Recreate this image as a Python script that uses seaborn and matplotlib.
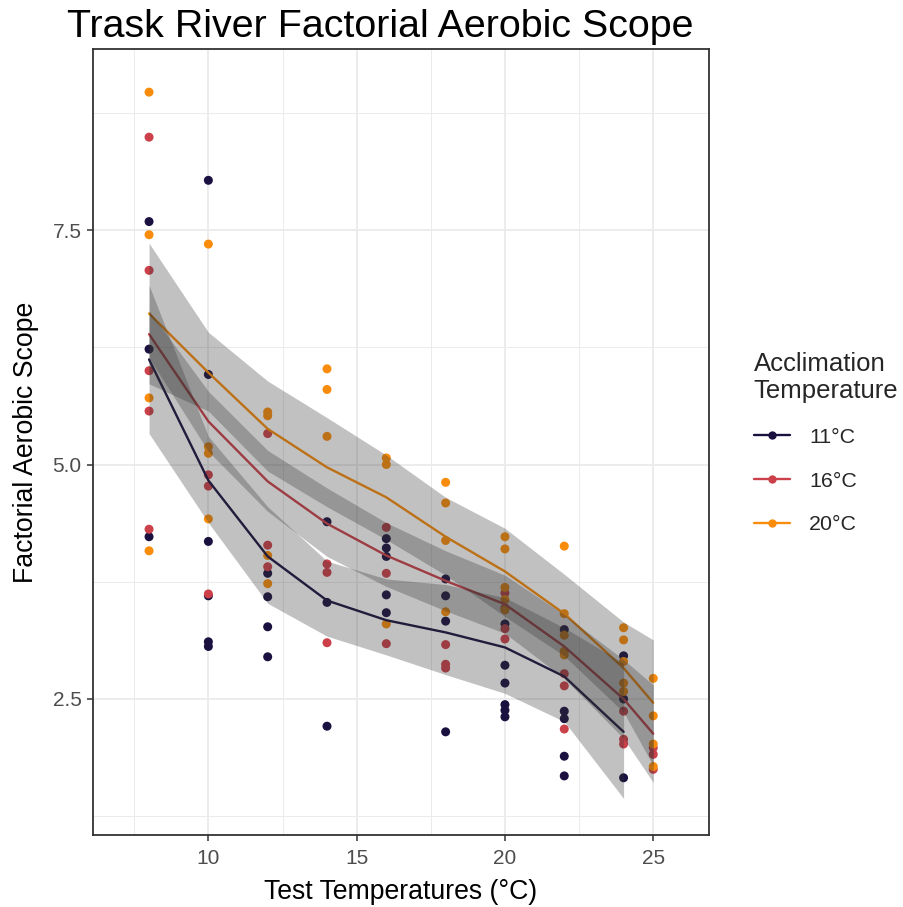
import numpy as np
import pandas as pd
import matplotlib
matplotlib.use("Agg")
import matplotlib.pyplot as plt
from matplotlib.lines import Line2D
from matplotlib.ticker import FixedLocator
import seaborn as sns

# ---------------- data ----------------
groups = ["11°C", "16°C", "20°C"]
colors = ["#1B1140", "#CB4049", "#F98C0A"]

temp_11 = [8, 8, 8,
           10, 10, 10, 10, 10, 10,
           12, 12, 12, 12,
           14, 14, 14,
           16, 16, 16, 16, 16,
           18, 18, 18, 18,
           20, 20, 20, 20, 20, 20,
           22, 22, 22, 22, 22,
           24, 24, 24]
fas_11 = [7.59, 6.23, 4.23,
          8.03, 5.96, 4.18, 3.60, 3.11, 3.06,
          3.84, 3.59, 3.27, 2.95,
          4.39, 3.53, 2.21,
          4.21, 4.11, 4.02, 3.61, 3.42,
          3.78, 3.60, 3.33, 2.15,
          3.30, 2.86, 2.67, 2.44, 2.38, 2.31,
          3.24, 2.37, 2.29, 1.89, 1.68,
          2.96, 2.50, 1.66]

temp_16 = [8, 8, 8, 8, 8,
           10, 10, 10,
           12, 12, 12,
           14, 14, 14,
           16, 16, 16,
           18, 18, 18,
           20, 20, 20, 20,
           22, 22, 22,
           24, 24, 24,
           25, 25, 25]
fas_16 = [8.49, 7.07, 6.00, 5.57, 4.31,
          4.89, 4.77, 3.62,
          5.33, 4.14, 3.91,
          3.94, 3.85, 3.10,
          4.33, 3.84, 3.09,
          3.08, 2.87, 2.83,
          3.63, 3.47, 3.25, 3.14,
          2.77, 2.64, 2.18,
          2.37, 2.07, 2.02,
          1.98, 1.91, 1.75]

temp_20 = [8, 8, 8, 8,
           10, 10, 10, 10,
           12, 12, 12, 12,
           14, 14, 14,
           16, 16, 16,
           18, 18, 18, 18,
           20, 20, 20, 20, 20,
           22, 22, 22, 22, 22,
           24, 24, 24, 24, 24,
           25, 25, 25, 25]
fas_20 = [8.97, 7.45, 5.71, 4.08,
          7.35, 5.19, 5.12, 4.42,
          5.56, 5.52, 4.03, 3.73,
          6.02, 5.80, 5.30,
          5.07, 5.00, 3.30,
          4.81, 4.59, 4.19, 3.43,
          4.23, 4.10, 3.69, 3.56, 3.45,
          4.13, 3.41, 3.18, 3.01, 2.97,
          3.26, 3.13, 2.90, 2.67, 2.58,
          2.72, 2.32, 2.02, 1.78]

# fitted curves with confidence limits
fit_x_11 = [8, 10, 12, 14, 16, 18, 20, 22, 24]
fit_11 = [6.12, 4.83, 4.02, 3.55, 3.34, 3.21, 3.05, 2.74, 2.15]
lo_11 = [5.33, 4.38, 3.52, 3.17, 2.97, 2.76, 2.56, 2.26, 1.44]
hi_11 = [6.91, 5.30, 4.55, 3.97, 3.78, 3.72, 3.58, 3.26, 2.88]

fit_x_16 = [8, 10, 12, 14, 16, 18, 20, 22, 24, 25]
fit_16 = [6.39, 5.46, 4.82, 4.37, 4.03, 3.76, 3.51, 3.06, 2.50, 2.13]
lo_16 = [6.14, 5.14, 4.50, 4.02, 3.70, 3.44, 3.20, 2.72, 2.08, 1.61]
hi_16 = [6.64, 5.78, 5.15, 4.75, 4.38, 4.08, 3.82, 3.40, 2.92, 2.65]

fit_x_20 = [8, 10, 12, 14, 16, 18, 20, 22, 24, 25]
fit_20 = [6.61, 5.98, 5.38, 4.97, 4.65, 4.23, 3.86, 3.41, 2.83, 2.46]
lo_20 = [5.86, 5.57, 4.93, 4.55, 4.20, 3.82, 3.38, 2.96, 2.36, 1.79]
hi_20 = [7.36, 6.41, 5.89, 5.50, 5.10, 4.65, 4.32, 3.83, 3.32, 3.13]

x_ticks = [10, 15, 20, 25]
x_minor = [7.5, 12.5, 17.5, 22.5]
y_ticks = [2.5, 5.0, 7.5]
y_minor = [1.25, 3.75, 6.25, 8.75]
y_tick_labels = ["2.5", "5.0", "7.5"]

title = "Trask River Factorial Aerobic Scope"
x_label = "Test Temperatures (°C)"
y_label = "Factorial Aerobic Scope"
legend_title = "Acclimation\nTemperature"

points = pd.concat([
    pd.DataFrame({"temp": temp_11, "fas": fas_11, "acc": groups[0]}),
    pd.DataFrame({"temp": temp_16, "fas": fas_16, "acc": groups[1]}),
    pd.DataFrame({"temp": temp_20, "fas": fas_20, "acc": groups[2]}),
], ignore_index=True)

fits = [
    pd.DataFrame({"temp": fit_x_11, "fit": fit_11, "lo": lo_11, "hi": hi_11}),
    pd.DataFrame({"temp": fit_x_16, "fit": fit_16, "lo": lo_16, "hi": hi_16}),
    pd.DataFrame({"temp": fit_x_20, "fit": fit_20, "lo": lo_20, "hi": hi_20}),
]

# ---------------- plot ----------------
sns.set_theme(style="white")
plt.rcParams["font.family"] = ["Liberation Sans", "DejaVu Sans"]

fig = plt.figure(figsize=(9.04, 9.07), dpi=100)
ax = fig.add_axes([92.7 / 904, 1 - 835 / 907, (709 - 92.7) / 904, (835 - 49) / 907])

sns.scatterplot(data=points, x="temp", y="fas", hue="acc", palette=colors,
                hue_order=groups, s=42, linewidth=0, ax=ax, legend=False,
                zorder=2)

for i, fd in enumerate(fits):
    sns.lineplot(data=fd, x="temp", y="fit", color=colors[i], linewidth=1.7,
                 estimator=None, sort=False, ax=ax, zorder=3)
for i, fd in enumerate(fits):
    ax.fill_between(fd["temp"], fd["lo"], fd["hi"], color="#333333", alpha=0.3,
                    linewidth=0, zorder=4)

ax.set_xlim(6.10, 26.88)
ax.set_ylim(1.05, 9.43)
ax.xaxis.set_major_locator(FixedLocator(x_ticks))
ax.xaxis.set_minor_locator(FixedLocator(x_minor))
ax.yaxis.set_major_locator(FixedLocator(y_ticks))
ax.yaxis.set_minor_locator(FixedLocator(y_minor))
ax.set_yticklabels(y_tick_labels)

ax.grid(which="major", color="#EBEBEB", linewidth=1.3, zorder=0)
ax.grid(which="minor", color="#EBEBEB", linewidth=0.7, zorder=0)
ax.set_axisbelow(True)

for sp in ax.spines.values():
    sp.set_color("#333333")
    sp.set_linewidth(1.3)
    sp.set_visible(True)

ax.tick_params(axis="both", which="major", length=4, width=1.1, color="#333333",
               labelsize=15, labelcolor="#4D4D4D", direction="out",
               bottom=True, left=True)
ax.tick_params(axis="x", which="major", pad=6)
ax.tick_params(axis="y", which="major", pad=4)
ax.tick_params(axis="both", which="minor", length=0)

ax.set_xlabel(x_label, fontsize=19.2, color="black", labelpad=8)
ax.set_ylabel(y_label, fontsize=19.2, color="black", labelpad=10)

fig.text(67 / 904, 1 - 37 / 907, title, fontsize=28.4, color="black",
         ha="left", va="baseline")

handles = [Line2D([0], [0], color=c, linewidth=1.7, marker="o", markersize=6,
                  markeredgewidth=0) for c in colors]
leg = fig.legend(handles, groups, title=legend_title, loc="upper left",
                 bbox_to_anchor=(745 / 904, 1 - 343 / 907), frameon=False,
                 fontsize=15.4, title_fontsize=18.5, handlelength=1.7,
                 handletextpad=0.9, labelspacing=1.15, borderaxespad=0,
                 alignment="left")

fig.savefig("out.png", dpi=100)
